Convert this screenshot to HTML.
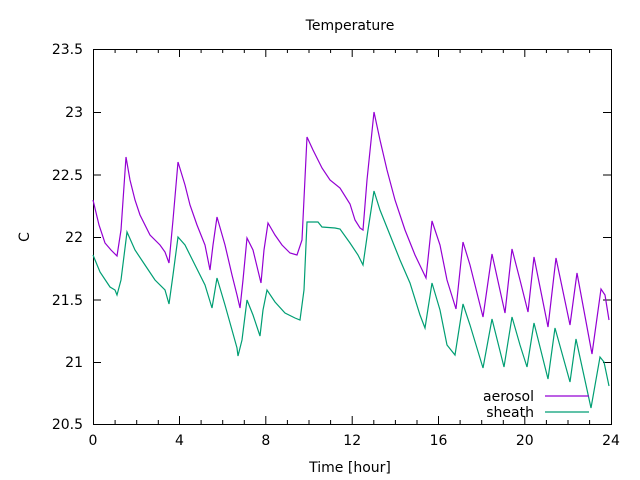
<!DOCTYPE html>
<html><head><meta charset="utf-8"><style>body{margin:0;background:#fff}svg{display:block}text{font-family:"DejaVu Sans","Liberation Sans",sans-serif;font-size:14px;fill:#000}</style></head><body>
<svg width="640" height="480" viewBox="0 0 640 480">
<rect width="640" height="480" fill="#fff"/>
<g stroke="#000" stroke-width="1" fill="none">
<rect x="93.5" y="49.5" width="518" height="375"/>
<path d="M93,112.5h8M611,112.5h-8M93,175h8M611,175h-8M93,237.5h8M611,237.5h-8M93,300h8M611,300h-8M93,362.5h8M611,362.5h-8"/>
<path d="M179.5,424v-8M179.5,49v8M265.8,424v-8M265.8,49v8M352.2,424v-8M352.2,49v8M438.5,424v-8M438.5,49v8M524.8,424v-8M524.8,49v8"/>
<path d="M115.1,424v-4M136.7,424v-4M158.3,424v-4M201.1,424v-4M222.7,424v-4M244.3,424v-4M287.4,424v-4M309,424v-4M330.6,424v-4M373.8,424v-4M395.4,424v-4M417,424v-4M460.1,424v-4M481.7,424v-4M503.3,424v-4M546.4,424v-4M568,424v-4M589.6,424v-4
M115.1,49v4M136.7,49v4M158.3,49v4M201.1,49v4M222.7,49v4M244.3,49v4M287.4,49v4M309,49v4M330.6,49v4M373.8,49v4M395.4,49v4M417,49v4M460.1,49v4M481.7,49v4M503.3,49v4M546.4,49v4M568,49v4M589.6,49v4"/>
</g>
<g text-anchor="end">
<text x="83" y="54">23.5</text><text x="83" y="117">23</text><text x="83" y="180">22.5</text><text x="83" y="242">22</text><text x="83" y="305">21.5</text><text x="83" y="367">21</text><text x="83" y="429">20.5</text>
</g>
<g text-anchor="middle">
<text x="93" y="445">0</text><text x="179.5" y="445">4</text><text x="265.8" y="445">8</text><text x="352.2" y="445">12</text><text x="438.5" y="445">16</text><text x="524.8" y="445">20</text><text x="611" y="445">24</text>
<text x="350" y="30">Temperature</text>
<text x="350" y="472">Time [hour]</text>
<text x="24" y="242" transform="rotate(-90 24 237)">C</text>
</g>
<polyline fill="none" stroke="#9400d3" stroke-width="1.2" points="93,200 99,225 105,243 111,250 117,256 121,230 126,157 130,180 135,200 140,215 150,235 160,245 165,252 169,263 173,220 178,162 185,185 190,205 197,225 205,245 210,270 213,245 217,217 225,245 232,275 237,295 240,308 243,280 247,238 253,250 261,283 264,250 268,223 275,235 282,245 290,253 297,255 302,240 307,137 313,150 322,168 330,180 340,188 350,204 355,220 360,228 363,230 367,180 374,112 380,140 387,170 395,200 405,230 415,255 426,278 432,221 440,245 447,280 456,309 463,242 470,265 483,317 492,254 505,313 512,249 520,280 528,312 534,257 548,327 556,258 570,325 577,273 592,354 601,289 605,295 609,320"/>
<polyline fill="none" stroke="#009e73" stroke-width="1.2" points="93,255 100,272 110,287 115,290 117,295 121,280 127,232 135,250 145,265 155,280 165,290 169,304 173,275 178,237 185,245 195,265 205,285 212,308 217,278 225,305 232,330 237,348 238,356 242,340 247,300 253,315 260,336 263,310 267,290 275,302 285,313 295,318 300,320 304,290 307,222 318,222 322,227 335,228 340,229 350,243 358,255 363,265 368,230 374,191 380,210 390,235 400,260 410,283 420,315 425,328 432,283 440,310 447,345 455,355 463,304 470,325 483,368 492,319 504,367 512,317 520,345 527,367 534,323 548,379 555,328 570,382 576,339 591,408 600,357 604,362 609,386"/>
<text x="534" y="401" text-anchor="end">aerosol</text>
<text x="534" y="417" text-anchor="end">sheath</text>
<path d="M545,396h44" stroke="#9400d3" stroke-width="1.2"/>
<path d="M545,412h44" stroke="#009e73" stroke-width="1.2"/>
</svg>
</body></html>
